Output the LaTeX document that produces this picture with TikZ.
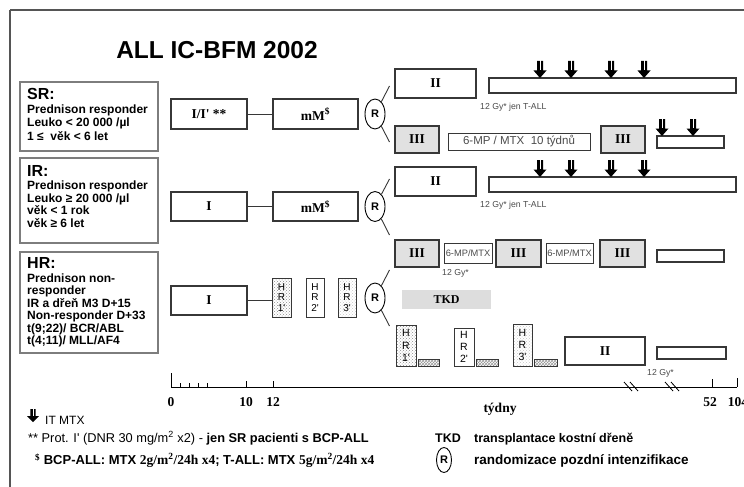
\documentclass[tikz,border=0pt]{standalone}
\usepackage{fontspec}
\setmainfont{Liberation Serif}
\setsansfont{Liberation Sans}
\usetikzlibrary{shapes.geometric,patterns}
\definecolor{bline}{RGB}{55,55,55}
\definecolor{lline}{RGB}{125,125,125}
\definecolor{fillIII}{RGB}{225,225,225}
\definecolor{tkdfill}{RGB}{221,221,221}
\definecolor{txtgray}{RGB}{75,75,75}
\definecolor{framecol}{RGB}{85,85,85}
\newcommand\bxn[7]{\node[#1, minimum width={#5-#3}, minimum height={#6-#4}] (#2) at ({(#3+#5)/2},{(#4+#6)/2}) {#7};}
\newcommand\lbf{\sffamily\bfseries\fontsize{12}{12}\selectfont}
\newcommand\mfont{\rmfamily\bfseries\fontsize{13.5}{14}\selectfont}
\newcommand\qs{\textquotesingle}
\tikzset{
  mbox/.style={draw=bline, line width=1.1pt, fill=white, inner sep=0pt, font=\mfont},
  gbox/.style={mbox, fill=fillIII},
  lbox/.style={draw=lline, line width=1.4pt, inner sep=0pt},
  conn/.style={draw=bline, line width=0.9pt},
  framestyle/.style={draw=framecol, line width=1.6pt},
  rnode/.style={ellipse, draw=black, line width=0.9pt, minimum width=20pt, minimum height=30pt, inner sep=0pt, font=\sffamily\bfseries\fontsize{11}{11}\selectfont},
  ltxt/.style={anchor=base west, inner sep=0pt, font=\lbf},
  lhead/.style={anchor=base west, inner sep=0pt, font=\sffamily\bfseries\fontsize{16}{16}\selectfont},
  smalltxt/.style={anchor=base west, inner sep=0pt, text=txtgray, font=\sffamily\fontsize{8.7}{9}\selectfont},
  mpbox/.style={draw=bline, line width=1pt, fill=white, inner sep=0pt, text=txtgray, font=\sffamily\fontsize{11.5}{12}\selectfont},
  mpsbox/.style={draw=bline, line width=1pt, fill=white, inner sep=0pt, text=txtgray, font=\sffamily\fontsize{9.3}{10}\selectfont},
  hrbox/.style={draw=bline, line width=0.9pt, fill=white, inner sep=0pt, align=center, font=\sffamily\fontsize{10}{10.8}\selectfont},
  hrboxl/.style={hrbox, font=\sffamily\fontsize{10.5}{12.3}\selectfont},
  dotfill/.style={pattern=crosshatch dots, pattern color=gray!90},
  hatchbar/.style={draw=bline, line width=0.8pt, pattern=crosshatch, pattern color=gray!80},
  axlab/.style={anchor=base, inner sep=0pt, font=\rmfamily\bfseries\fontsize{13.5}{14}\selectfont},
  legt/.style={anchor=base west, inner sep=0pt, font=\sffamily\fontsize{12.8}{13}\selectfont},
  legb/.style={anchor=base west, inner sep=0pt, font=\sffamily\bfseries\fontsize{12.5}{13}\selectfont},
  itarr/.pic={
    \fill[black] (-3,-17) -- (3,-17) -- (3,-7.5) -- (6.5,-7.5) -- (0,0) -- (-6.5,-7.5) -- (-3,-7.5) -- cycle;
    \draw[white, line width=0.7pt] (0,-17.5) -- (0,-8);
  },
  itarrs/.pic={
    \fill[black] (-2.6,-13) -- (2.6,-13) -- (2.6,-6) -- (6,-6) -- (0,0) -- (-6,-6) -- (-2.6,-6) -- cycle;
    \draw[white, line width=0.7pt] (0,-13.5) -- (0,-6.5);
  }
}
\begin{document}
\begin{tikzpicture}[x=1pt,y=-1pt]
\useasboundingbox (0,0) rectangle (744,487);
% title
\node[anchor=base, inner sep=0pt, font=\sffamily\bfseries\fontsize{24.5}{25}\selectfont] (title) at (217,59) {ALL IC-BFM 2002};

% left boxes
\bxn{lbox}{srbox}{20}{82}{158}{151}{}
\node[lhead] (srh) at (27,99.5) {SR:};
\node[ltxt] (sr1) at (27,113) {Prednison responder};
\node[ltxt] (sr2) at (27,126.5) {Leuko < 20 000 /µl};
\node[ltxt] (sr3) at (27,140) {1 ≤\ \ věk < 6 let};

\bxn{lbox}{irbox}{20}{158}{158}{243}{}
\node[lhead] (irh) at (27,176) {IR:};
\node[ltxt] (ir1) at (27,189.5) {Prednison responder};
\node[ltxt] (ir2) at (27,202) {Leuko ≥ 20 000 /µl};
\node[ltxt] (ir3) at (27,214.5) {věk < 1 rok};
\node[ltxt] (ir4) at (27,227) {věk ≥ 6 let};

\bxn{lbox}{hrbox}{20}{252}{158}{353}{}
\node[lhead] (hrh) at (27,268) {HR:};
\node[ltxt] (hr1t) at (27,282) {Prednison non-};
\node[ltxt] (hr2t) at (27,294.5) {responder};
\node[ltxt] (hr3t) at (27,307) {IR a dřeň M3 D+15};
\node[ltxt] (hr4t) at (27,319.5) {Non-responder D+33};
\node[ltxt] (hr5t) at (27,332) {t(9;22)/ BCR/ABL};
\node[ltxt] (hr6t) at (27,344.5) {t(4;11)/ MLL/AF4};

% ---------- SR row
\bxn{mbox}{sri}{171}{99}{247}{129}{I/I\qs{} **}
\bxn{mbox}{srm}{273}{99}{358}{129}{mM\textsuperscript{\$}}
\node[rnode] (srr) at (375,114) {R};
\draw[conn] (sri) -- (srm);
\coordinate (sru) at (389.5,86);
\coordinate (srd) at (389.5,142);
\draw[conn] (srr) -- (sru);
\draw[conn] (srr) -- (srd);
\bxn{mbox}{srii}{395}{69}{476}{98}{II}
\bxn{mbox}{srbar}{489}{78}{736}{93}{}
\node[smalltxt] (srgy) at (480,109) {12 Gy* jen T-ALL};
\foreach \x in {540,571,611,644} \pic at (\x,78) {itarr};
\bxn{gbox}{sriii}{395}{126}{439}{153}{III}
\bxn{mpbox}{srmp}{448}{133}{590}{150}{6-MP / MTX\ \ 10 týdnů}
\bxn{gbox}{sriiib}{601}{126}{645}{153}{III}
\bxn{mbox}{srbar2}{657}{136}{724}{148}{}
\foreach \x in {662,693} \pic at (\x,136) {itarr};

% ---------- IR row
\bxn{mbox}{iri}{171}{192}{247}{221}{I}
\bxn{mbox}{irm}{273}{192}{358}{221}{mM\textsuperscript{\$}}
\node[rnode] (irr) at (375,206.5) {R};
\draw[conn] (iri) -- (irm);
\coordinate (iru) at (389.5,179);
\coordinate (ird) at (389.5,235);
\draw[conn] (irr) -- (iru);
\draw[conn] (irr) -- (ird);
\bxn{mbox}{irii}{395}{167}{476}{196}{II}
\bxn{mbox}{irbar}{489}{177}{736}{192}{}
\node[smalltxt] (irgy) at (480,207) {12 Gy* jen T-ALL};
\foreach \x in {540,571,611,644} \pic at (\x,177) {itarr};

% ---------- III row (IR/HR)
\bxn{gbox}{iii1}{395}{240}{439}{267}{III}
\bxn{mpsbox}{mp1}{444}{243}{492}{263}{6-MP/MTX}
\bxn{gbox}{iii2}{496}{240}{541}{267}{III}
\bxn{mpsbox}{mp2}{546}{243}{593}{263}{6-MP/MTX}
\bxn{gbox}{iii3}{600}{240}{645}{267}{III}
\bxn{mbox}{iiibar}{657}{250}{724}{262}{}
\node[smalltxt] (gy3) at (442,275) {12 Gy*};

% ---------- HR row
\bxn{mbox}{hri}{171}{286}{247}{315}{I}
\bxn{hrbox, dotfill}{hra}{272}{278}{291}{317}{H\\R\\1\qs}
\bxn{hrbox}{hrb}{306}{278}{324}{317}{H\\R\\2\qs}
\bxn{hrbox, pattern=crosshatch dots, pattern color=gray!45}{hrc}{338}{278}{356}{317}{H\\R\\3\qs}
\coordinate (hrj) at (272,300.5);
\draw[conn] (hri) -- (hrj);
\node[rnode] (hrr) at (375,298) {R};
\coordinate (hru) at (389.5,270);
\coordinate (hrd) at (389.5,326);
\draw[conn] (hrr) -- (hru);
\draw[conn] (hrr) -- (hrd);
\bxn{fill=tkdfill, inner sep=0pt, font=\rmfamily\bfseries\fontsize{12}{12}\selectfont}{tkd}{402}{290}{491}{309}{TKD}

% lower HR row
\bxn{hrboxl, dotfill}{la}{396}{325}{416}{366}{H\\R\\1\qs}
\bxn{hatchbar}{lab}{418}{361}{439}{365}{}
\bxn{hrboxl}{lb}{454}{328}{474}{366}{H\\R\\2\qs}
\bxn{hatchbar}{lbb}{476}{361}{498}{365}{}
\bxn{hrboxl, pattern=crosshatch dots, pattern color=gray!45}{lc}{513}{324}{532}{366}{H\\R\\3\qs}
\bxn{hatchbar}{lcb}{534}{361}{557}{365}{}
\bxn{mbox}{lii}{565}{337}{645}{365}{II}
\bxn{mbox}{lbar}{657}{347}{726}{359}{}
\node[smalltxt] (gy4) at (647,375) {12 Gy*};

% ---------- axis
\coordinate (ax0) at (171,387);
\coordinate (ax1) at (737,387);
\draw[black, line width=1pt] (ax0) -- (ax1);
\draw[black, line width=1pt] (171,373) -- (ax0);
\foreach \x in {180,189,198,207} \draw[black, line width=0.8pt] (\x,383) -- (\x,387);
\foreach \x in {246,273} \draw[black, line width=0.8pt] (\x,381) -- (\x,387);
\draw[black, line width=1pt] (712,379) -- (712,387);
\draw[black, line width=1pt] (737,378) -- (737,387);
\foreach \x in {624,630,665,671} \draw[black, line width=0.8pt] (\x,382) -- (\x+8,391);
\node[axlab] (l0) at (171,406) {0};
\node[axlab] (l10) at (246,406) {10};
\node[axlab] (l12) at (273,406) {12};
\node[axlab] (l52) at (710,406) {52};
\node[axlab] (l104) at (738,406) {104};
\node[axlab] (tyd) at (500,412) {týdny};

% ---------- legend
\pic at (33,422) {itarrs};
\node[legt, font=\sffamily\fontsize{12}{12}\selectfont] (leg1) at (45,424) {IT MTX};
\node[legt] (leg2) at (28,442) {** Prot. I\qs{} (DNR 30 mg/m\textsuperscript{2} x2) - \textbf{jen SR pacienti s BCP-ALL}};
\node[legt, font=\sffamily\bfseries\fontsize{13}{13}\selectfont] (leg3) at (35,464.5) {{\rmfamily\textsuperscript{\$}} BCP-ALL: MTX {\rmfamily\fontsize{13.5}{13.5}\selectfont 2g/m\textsuperscript{2}/24h x4}; T-ALL: MTX {\rmfamily\fontsize{13.5}{13.5}\selectfont 5g/m\textsuperscript{2}/24h x4}};
\node[legb] (leg4) at (435,442) {TKD};
\node[legb] (leg5) at (474,442) {transplantace kostní dřeně};
\node[rnode, minimum width=15pt, minimum height=25pt] (legr) at (444,460) {R};
\node[legb, font=\sffamily\bfseries\fontsize{13.5}{14}\selectfont] (leg6) at (474,464.5) {randomizace pozdní intenzifikace};

% outer frame (open at right and bottom)
\coordinate (fbl) at (10,487);
\coordinate (ftl) at (10,10);
\coordinate (ftr) at (744,10);
\draw[framestyle] (fbl) -- (ftl);
\draw[framestyle] (ftl) -- (ftr);
\end{tikzpicture}
\end{document}
